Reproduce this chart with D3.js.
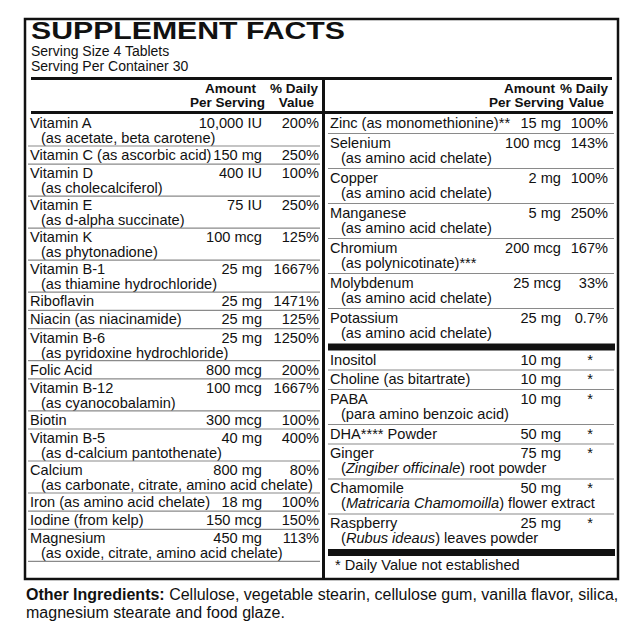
<!DOCTYPE html>
<html><head><meta charset="utf-8">
<script src="https://cdn.jsdelivr.net/npm/d3@7"></script>
<style>body{margin:0;background:#fff}svg{display:block}text{font-family:"Liberation Sans",Arial,sans-serif;fill:#111}</style>
</head><body><svg id="c" width="640" height="640"></svg>
<script>
const leftNames=["Vitamin A","Vitamin C (as ascorbic acid)","Vitamin D","Vitamin E","Vitamin K","Vitamin B-1","Riboflavin","Niacin (as niacinamide)","Vitamin B-6","Folic Acid","Vitamin B-12","Biotin","Vitamin B-5","Calcium","Iron (as amino acid chelate)","Iodine (from kelp)","Magnesium"];
const leftSubs=["(as acetate, beta carotene)","","(as cholecalciferol)","(as d-alpha succinate)","(as phytonadione)","(as thiamine hydrochloride)","","","(as pyridoxine hydrochloride)","","(as cyanocobalamin)","","(as d-calcium pantothenate)","(as carbonate, citrate, amino acid chelate)","","","(as oxide, citrate, amino acid chelate)"];
const leftAmounts=["10,000 IU","150 mg","400 IU","75 IU","100 mcg","25 mg","25 mg","25 mg","25 mg","800 mcg","100 mcg","300 mcg","40 mg","800 mg","18 mg","150 mcg","450 mg"];
const leftDV=["200%","250%","100%","250%","125%","1667%","1471%","125%","1250%","200%","1667%","100%","400%","80%","100%","150%","113%"];
const rightNames=["Zinc (as monomethionine)**","Selenium","Copper","Manganese","Chromium","Molybdenum","Potassium"];
const rightSubs=["","(as amino acid chelate)","(as amino acid chelate)","(as amino acid chelate)","(as polynicotinate)***","(as amino acid chelate)","(as amino acid chelate)"];
const rightAmounts=["15 mg","100 mcg","2 mg","5 mg","200 mcg","25 mcg","25 mg"];
const rightDV=["100%","143%","100%","250%","167%","33%","0.7%"];
const otherNames=["Inositol","Choline (as bitartrate)","PABA","DHA**** Powder","Ginger","Chamomile","Raspberry"];
const otherSubs=["","","(para amino benzoic acid)","","(_Zingiber officinale_) root powder","(_Matricaria Chamomoilla_) flower extract","(_Rubus ideaus_) leaves powder"];
const otherAmounts=["10 mg","10 mg","10 mg","50 mg","75 mg","50 mg","25 mg"];
const otherDV=["*","*","*","*","*","*","*"];

const svg=d3.select("#c");
const FS=14.6;
function rows(names,subs,top,single,dbl){
  const h=subs.map(s=>s?dbl:single);
  let y=top;return names.map((n,i)=>{const r={i,y,h:h[i]};y+=h[i];return r;});
}
function subText(sel,s){
  s.split("_").forEach((p,k)=>{if(p)sel.append("tspan").attr("font-style",k%2?"italic":"normal").text(p);});
}
function panel(names,subs,amts,dvs,top,single,dbl,x0,x1,amtX,dvX,dvMid,lastLine){
  const rs=rows(names,subs,top,single,dbl);
  const g=svg.append("g");
  rs.forEach((r,i)=>{
    g.append("text").attr("x",x0+4).attr("y",r.y+14).attr("font-size",FS).text(names[i]);
    if(subs[i]){const t=g.append("text").attr("x",x0+15).attr("y",r.y+29).attr("font-size",FS);subText(t,subs[i]);}
    g.append("text").attr("x",amtX).attr("y",r.y+14).attr("font-size",FS).attr("text-anchor","end").text(amts[i]);
    const d=dvs[i];
    g.append("text").attr("x",d==="*"?dvMid:dvX).attr("y",r.y+14).attr("font-size",FS).attr("text-anchor",d==="*"?"middle":"end").text(d);
    if(i<rs.length-1||lastLine) g.append("line").attr("x1",x0+2).attr("x2",x1-2).attr("y1",r.y+r.h).attr("y2",r.y+r.h).attr("stroke","#8a8a8a").attr("stroke-width",1.2);
  });
  return rs[rs.length-1].y+rs[rs.length-1].h;
}
svg.append("rect").attr("x",25).attr("y",19).attr("width",593).attr("height",560).attr("fill","none").attr("stroke","#111").attr("stroke-width",2.5);
svg.append("text").attr("x",31).attr("y",39).attr("font-family","DejaVu Sans").attr("font-weight","900").attr("font-size",23).attr("textLength",314).attr("lengthAdjust","spacingAndGlyphs").text("SUPPLEMENT FACTS");
svg.append("text").attr("x",31).attr("y",56).attr("font-size",14).text("Serving Size 4 Tablets");
svg.append("text").attr("x",31).attr("y",71).attr("font-size",14).text("Serving Per Container 30");
svg.append("rect").attr("x",31).attr("y",77).attr("width",581).attr("height",3).attr("fill","#111");
svg.append("rect").attr("x",322).attr("y",79).attr("width",3).attr("height",500).attr("fill","#111");
svg.append("rect").attr("x",31).attr("y",111).attr("width",291).attr("height",3).attr("fill","#111");
svg.append("rect").attr("x",325).attr("y",111).attr("width",288).attr("height",3).attr("fill","#111");
[[262,318],[561,608]].forEach(([a,d])=>{
  svg.append("text").attr("x",a-6).attr("y",93).attr("font-size",13.5).attr("font-weight","bold").attr("text-anchor","end").text("Amount");
  svg.append("text").attr("x",a+3).attr("y",107).attr("font-size",13.5).attr("font-weight","bold").attr("text-anchor","end").text("Per Serving");
  svg.append("text").attr("x",d).attr("y",93).attr("font-size",13.5).attr("font-weight","bold").attr("text-anchor","end").text("% Daily");
  svg.append("text").attr("x",d-4).attr("y",107).attr("font-size",13.5).attr("font-weight","bold").attr("text-anchor","end").text("Value");
});
panel(leftNames,leftSubs,leftAmounts,leftDV,114,18.2,32,26,322,262,319,0,true);
const rEnd=panel(rightNames,rightSubs,rightAmounts,rightDV,113.5,20,35,326,616,561,608,590,false);
svg.append("rect").attr("x",328).attr("y",rEnd).attr("width",287).attr("height",7).attr("fill","#111");
const oEnd=panel(otherNames,otherSubs,otherAmounts,otherDV,rEnd+7,19.5,35,326,616,561,608,590,false);
svg.append("rect").attr("x",328).attr("y",oEnd).attr("width",287).attr("height",7).attr("fill","#111");
svg.append("text").attr("x",335).attr("y",oEnd+21).attr("font-size",FS).text("* Daily Value not established");
const f=svg.append("text").attr("x",26).attr("y",600).attr("font-size",16);
f.append("tspan").attr("font-weight","bold").text("Other Ingredients: ");
f.append("tspan").text("Cellulose, vegetable stearin, cellulose gum, vanilla flavor, silica,");
svg.append("text").attr("x",26).attr("y",618).attr("font-size",16).text("magnesium stearate and food glaze.");
</script></body></html>
